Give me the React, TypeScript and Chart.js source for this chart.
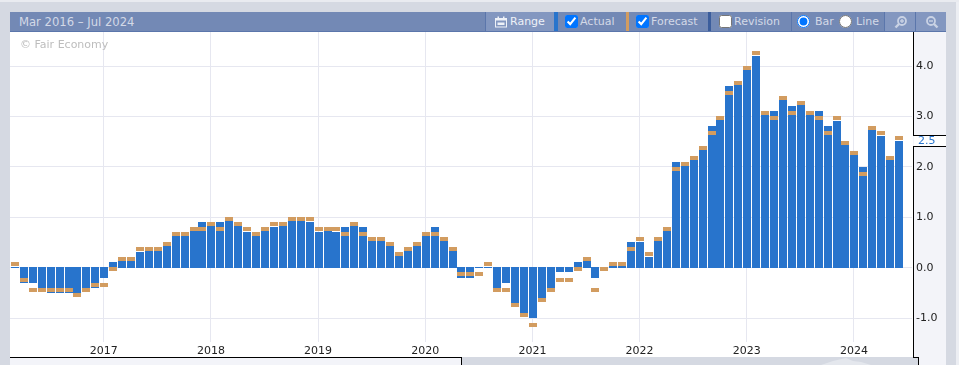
import React, { useEffect, useRef } from "react";
import { Chart, registerables } from "chart.js";

Chart.register(...registerables);

const months: string[] = [
  "2016-03","2016-04","2016-05","2016-06","2016-07","2016-08","2016-09","2016-10","2016-11","2016-12",
  "2017-01","2017-02","2017-03","2017-04","2017-05","2017-06","2017-07","2017-08","2017-09","2017-10","2017-11","2017-12",
  "2018-01","2018-02","2018-03","2018-04","2018-05","2018-06","2018-07","2018-08","2018-09","2018-10","2018-11","2018-12",
  "2019-01","2019-02","2019-03","2019-04","2019-05","2019-06","2019-07","2019-08","2019-09","2019-10","2019-11","2019-12",
  "2020-01","2020-02","2020-03","2020-04","2020-05","2020-06","2020-07","2020-08","2020-09","2020-10","2020-11","2020-12",
  "2021-01","2021-02","2021-03","2021-04","2021-05","2021-06","2021-07","2021-08","2021-09","2021-10","2021-11","2021-12",
  "2022-01","2022-02","2022-03","2022-04","2022-05","2022-06","2022-07","2022-08","2022-09","2022-10","2022-11","2022-12",
  "2023-01","2023-02","2023-03","2023-04","2023-05","2023-06","2023-07","2023-08","2023-09","2023-10","2023-11","2023-12",
  "2024-01","2024-02","2024-03","2024-04","2024-05","2024-06","2024-07",
];

const actual: (number | null)[] = [
  0.0,-0.3,-0.3,-0.4,-0.5,-0.5,-0.5,-0.5,-0.4,-0.4,
  -0.2,0.1,0.2,0.2,0.3,0.4,0.4,0.5,0.7,0.7,0.8,0.9,
  0.9,0.9,1.0,0.9,0.7,0.7,0.8,0.8,0.9,1.0,1.0,0.9,
  0.7,0.8,0.7,0.8,0.9,0.8,0.6,0.6,0.5,0.3,0.4,0.5,
  0.7,0.8,0.6,0.4,-0.2,-0.2,0.0,0.0,-0.4,-0.3,-0.7,-0.9,
  -1.0,-0.6,-0.4,-0.1,-0.1,0.1,0.2,-0.2,0.0,0.1,0.1,0.5,
  0.5,0.2,0.6,0.8,2.1,2.1,2.2,2.4,2.8,3.0,3.6,3.7,
  4.0,4.2,3.1,3.1,3.4,3.2,3.3,3.1,3.1,2.8,2.9,2.5,
  2.3,2.0,2.8,2.6,2.2,2.5,null,
];

const forecast: (number | null)[] = [
  0.1,-0.2,-0.4,-0.4,-0.4,-0.4,-0.4,-0.5,-0.4,-0.3,
  -0.3,0.0,0.2,0.2,0.4,0.4,0.4,0.5,0.7,0.7,0.8,0.8,
  0.9,0.8,1.0,0.9,0.8,0.7,0.8,0.9,0.9,1.0,1.0,1.0,
  0.8,0.8,0.8,0.7,0.9,0.7,0.6,0.6,0.5,0.3,0.4,0.5,
  0.7,0.7,0.6,0.4,-0.1,-0.1,-0.1,0.1,-0.4,-0.4,-0.7,-0.9,
  -1.1,-0.6,-0.4,-0.2,-0.2,0.0,0.2,-0.4,0.0,0.1,0.1,0.4,
  0.6,0.3,0.6,0.8,2.0,2.1,2.2,2.4,2.7,3.0,3.5,3.7,
  4.0,4.3,3.1,3.0,3.4,3.1,3.3,3.1,3.0,2.7,3.0,2.5,
  2.3,1.9,2.8,2.7,2.2,2.6,null,
];

const yTicks: number[] = [-1, 0, 1, 2, 3, 4];
const latestLabel = "2.5";
const FONT = '"DejaVu Sans", sans-serif';
const MARKER = 0.08;

const forecastBars = forecast.map((f) => (f === null ? null : [f - MARKER, f]));

const snapBars = {
  id: "snapBars",
  beforeDatasetsDraw(chart: any) {
    const yScale = chart.scales.y;
    const zero = Math.round(yScale.getPixelForValue(0) + 0.15);
    chart.getDatasetMeta(0).data.forEach((el: any, i: number) => {
      const v = actual[i];
      if (v === null) return;
      el.x = Math.round(el.x - 3.52) + 4;
      el.width = 8;
      const top = Math.round(yScale.getPixelForValue(v) - 0.35);
      if (v > 0) {
        el.base = zero;
        el.y = top;
      } else {
        el.base = zero - 1;
        el.y = v === 0 ? zero : top;
      }
    });
    chart.getDatasetMeta(1).data.forEach((el: any, i: number) => {
      const f = forecast[i];
      if (f === null) return;
      el.x = Math.round(el.x - 3.52) + 4;
      el.width = 8;
      el.y = Math.round(yScale.getPixelForValue(f) - 0.35);
      el.base = el.y + 4;
    });
  },
};

const clippedYear = {
  id: "clippedYear",
  afterDraw(chart: any) {
    const x = chart.scales.x;
    const step = x.getPixelForValue(1) - x.getPixelForValue(0);
    const ctx = chart.ctx;
    ctx.save();
    ctx.font = `11px ${FONT}`;
    ctx.fillStyle = "#222";
    ctx.textAlign = "center";
    ctx.textBaseline = "top";
    ctx.fillText("2016", x.getPixelForValue(0) - 2 * step, chart.chartArea.bottom + 3);
    ctx.restore();
  },
};

const box = (left: number, top: number, width: number, height: number, background: string, key?: string) => (
  <div key={key} style={{ position: "absolute", left, top, width, height, background }} />
);

const label = (text: string, left: number, color = "#d3d9e7", size = 11) => (
  <span style={{ position: "absolute", left, top: 12, height: 20, font: `${size}px/20px ${FONT}`, color, whiteSpace: "nowrap" }}>{text}</span>
);

const inputAt = (type: string, left: number, checked: boolean, name?: string) => (
  <input type={type} name={name} defaultChecked={checked} style={{ position: "absolute", left, top: 15, width: 13, height: 13, margin: 0 }} />
);

const Magnifier = ({ left, plus }: { left: number; plus: boolean }) => (
  <svg style={{ position: "absolute", left, top: 15, transform: plus ? "none" : "scaleX(-1)" }} width="14" height="14" viewBox="0 0 14 14">
    <circle cx="8" cy="6" r="4" fill="none" stroke="#c9d2e4" strokeWidth="1.8" />
    <line x1="5" y1="9" x2="1.5" y2="12.5" stroke="#c9d2e4" strokeWidth="2.4" />
    <line x1="6" y1="6" x2="10" y2="6" stroke="#c9d2e4" strokeWidth="1.4" />
    {plus ? <line x1="8" y1="4" x2="8" y2="8" stroke="#c9d2e4" strokeWidth="1.4" /> : null}
  </svg>
);

export default function App() {
  const ref = useRef<HTMLCanvasElement | null>(null);

  useEffect(() => {
    const chart = new Chart(ref.current as HTMLCanvasElement, {
      type: "bar",
      data: {
        labels: months,
        datasets: [
          { label: "Actual", data: actual, backgroundColor: "#2874cc", order: 2, minBarLength: 1 },
          { label: "Forecast", data: forecastBars as any, backgroundColor: "#d29c60", order: 1 },
        ],
      },
      options: {
        animation: false,
        responsive: false,
        maintainAspectRatio: false,
        layout: { padding: 0 },
        plugins: { legend: { display: false }, tooltip: { enabled: false } },
        datasets: { bar: { grouped: false, barPercentage: 0.9, categoryPercentage: 1 } },
        scales: {
          x: {
            offset: true,
            grid: { color: "#e6e7f0", offset: false, drawTicks: false },
            border: { display: false },
            afterBuildTicks: (s: any) => {
              s.ticks = s.ticks.filter((t: any) => months[t.value].endsWith("-01"));
            },
            afterFit: (s: any) => {
              s.height = 15;
              s.paddingLeft = 0;
              s.paddingRight = 0;
            },
            ticks: {
              autoSkip: false,
              maxRotation: 0,
              padding: 3,
              color: "#222",
              font: { family: FONT, size: 11 },
              callback: (v: any) => months[v].slice(0, 4),
            },
          },
          y: {
            position: "right",
            bounds: "data",
            min: -1.471,
            max: 4.674,
            grid: { color: "#e6e7f0", drawTicks: false },
            border: { display: false },
            afterBuildTicks: (s: any) => {
              s.ticks = yTicks.map((value) => ({ value }));
            },
            afterFit: (s: any) => {
              s.width = 34;
              s.paddingTop = 0;
              s.paddingBottom = 0;
            },
            ticks: {
              padding: 4,
              color: "#222",
              font: { family: FONT, size: 11 },
              callback: (v: any) => Number(v).toFixed(1),
            },
          },
        },
      },
      plugins: [snapBars, clippedYear],
    } as any);
    return () => chart.destroy();
  }, []);

  return (
    <div style={{ position: "fixed", left: 0, top: 0, width: 959, height: 365, overflow: "hidden", background: "#d5d9e2" }}>
      {box(0, 0, 959, 2, "#e9ebf0")}
      {box(956, 2, 3, 363, "#eceef3")}
      {box(10, 32, 903, 325, "#ffffff")}
      {box(913, 32, 33, 333, "#f3f4f9")}
      {box(10, 357, 451, 8, "#f3f4f9")}
      {box(913, 357, 5, 8, "#d5d9e2")}
      <svg style={{ position: "absolute", left: 461, top: 358 }} width="452" height="7">
        <polygon points="360,7 372,3 385,0 392,3 400,4 410,7" fill="#e4e7ed" />
      </svg>

      {/* header */}
      {box(10, 12, 936, 20, "#7389b5")}
      {box(10, 31, 936, 1, "#5b76ab")}
      {label("Mar 2016 – Jul 2024", 19, "#d3d9e7", 11.6)}
      {box(485, 12, 69, 19, "#8397c0")}
      {box(485, 12, 1, 19, "#5b76ab")}
      <svg style={{ position: "absolute", left: 495, top: 16 }} width="12" height="12" viewBox="0 0 12 12">
        <rect x="0.5" y="2.5" width="11" height="8.5" fill="none" stroke="#eef1f7" />
        <rect x="0.5" y="2.5" width="11" height="2" fill="#eef1f7" />
        <rect x="2.5" y="0.5" width="1.5" height="2.5" fill="#eef1f7" />
        <rect x="8" y="0.5" width="1.5" height="2.5" fill="#eef1f7" />
        <rect x="2.5" y="6.5" width="7" height="2.5" fill="#eef1f7" />
      </svg>
      {label("Range", 510, "#eef1f7")}
      {box(554, 12, 4, 19, "#2874cc")}
      {inputAt("checkbox", 565, true)}
      {label("Actual", 580)}
      {box(626, 12, 3, 19, "#d29c60")}
      {inputAt("checkbox", 636, true)}
      {label("Forecast", 651)}
      {box(708, 12, 3, 19, "#3b5d9c")}
      {inputAt("checkbox", 719, false)}
      {label("Revision", 734)}
      {box(791, 12, 1, 19, "#5b76ab")}
      {inputAt("radio", 797, true, "kind")}
      {label("Bar", 815)}
      {inputAt("radio", 839, false, "kind")}
      {label("Line", 856)}
      {box(884, 12, 62, 19, "#8397c0")}
      {box(884, 12, 1, 19, "#5b76ab")}
      {box(915, 12, 1, 19, "#5b76ab")}
      <Magnifier left={894} plus={true} />
      <Magnifier left={925} plus={false} />

      <canvas ref={ref} width={936} height={325} style={{ position: "absolute", left: 10, top: 32, display: "block" }} />

      {/* axis frame */}
      {box(10, 357, 452, 1, "#000")}
      {box(461, 357, 1, 8, "#000")}
      {box(913, 32, 1, 103, "#000")}
      {box(913, 146, 1, 212, "#000")}
      {box(913, 357, 6, 1, "#000")}
      {box(918, 357, 1, 8, "#000")}
      {box(914, 136, 32, 10, "#ffffff")}
      {box(913, 135, 33, 1, "#000")}
      {box(913, 146, 33, 1, "#000")}
      <span style={{ position: "absolute", left: 918, top: 135, font: `11px/12px ${FONT}`, color: "#2a76cf" }}>{latestLabel}</span>

      <span style={{ position: "absolute", left: 20, top: 38, font: `11px/14px ${FONT}`, color: "#bdbdbd" }}>© Fair Economy</span>
    </div>
  );
}
